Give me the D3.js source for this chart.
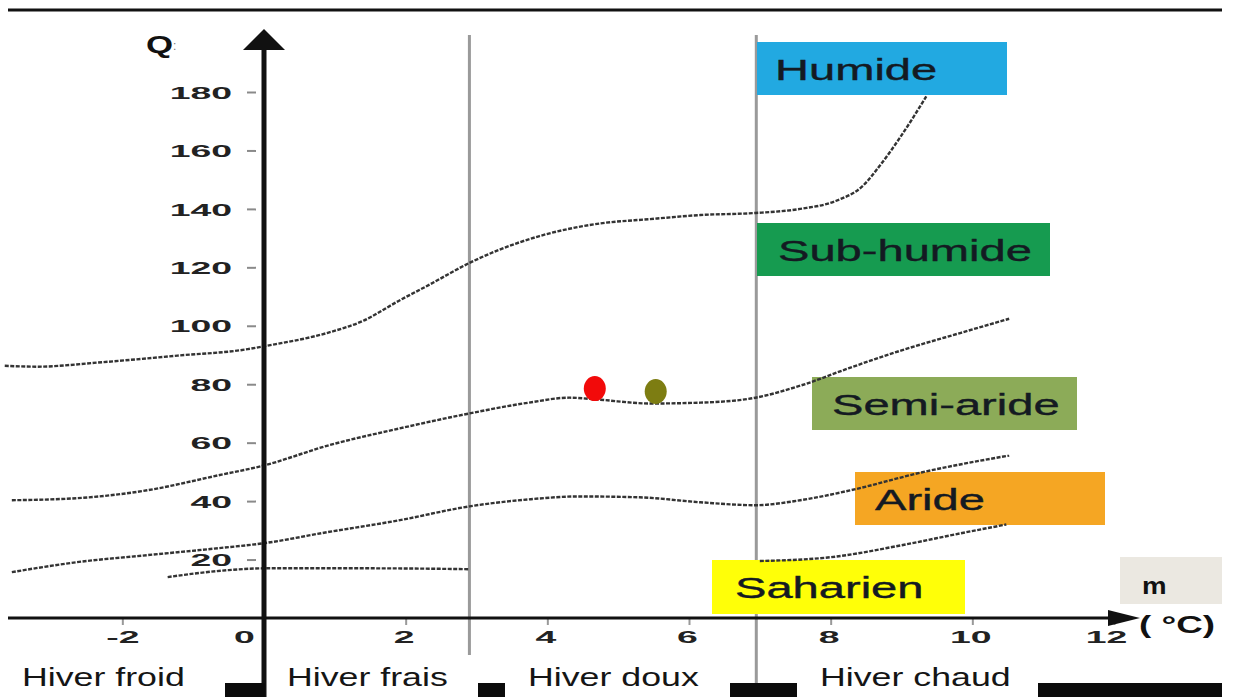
<!DOCTYPE html>
<html>
<head>
<meta charset="utf-8">
<script src="https://cdn.jsdelivr.net/npm/d3@7"></script>
<style>
  body { margin: 0; background: #fff; }
  svg { display: block; font-family: 'Liberation Sans', Arial, sans-serif; }
</style>
</head>
<body>
<script>
// climagramme d'Emberger : m (°C) en abscisse, Q en ordonnée
const xTicks = [-2, 0, 2, 4, 6, 8, 10, 12];
const yTicks = [20, 40, 60, 80, 100, 120, 140, 160, 180];

const limiteHumide = [
  [-3.66, 86.3], [-3.2, 86], [-2.35, 87.4], [-1.22, 89.8], [-0.23, 92], [0, 93],
  [0.9, 97.6], [1.4, 101.7], [1.9, 108.5], [2.33, 114], [2.9, 121.5], [3.32, 126],
  [3.89, 130.7], [4.74, 135], [5.45, 136.5], [6.16, 137.9], [6.94, 138.6], [7.57, 140],
  [8.07, 142.7], [8.45, 147.8], [8.71, 155.3], [8.99, 164.8], [9.35, 178.5]
];
const limiteSubHumide = [
  [-3.56, 40.3], [-2.64, 41], [-1.65, 43.7], [-0.65, 48.8], [0, 52.2], [0.9, 59],
  [1.9, 64.8], [2.9, 70], [3.74, 73.7], [4.31, 75.4], [4.74, 74.7], [5.45, 73.4],
  [6.16, 73.7], [6.87, 75.1], [7.57, 79.5], [8.28, 85.7], [8.99, 91.5], [9.84, 97.6],
  [10.52, 102.4]
];
const limiteSemiAride = [
  [-3.56, 15.7], [-2.64, 19.1], [-1.65, 21.5], [-0.64, 23.9], [0, 25.6], [0.9, 29.4],
  [1.9, 33.4], [2.9, 38.2], [3.74, 40.6], [4.45, 41.6], [5.3, 41.3], [6.16, 39.6],
  [6.94, 38.6], [7.57, 40.3], [8.28, 43.7], [9.28, 49.8], [10.52, 55.6]
];
const limiteArideGauche = [[-1.36, 14], [-0.5, 16.4], [0, 17], [1.5, 17], [2.9, 16.7]];
const limiteArideDroite = [[7.0, 19.5], [8.0, 20.8], [9.0, 24.9], [9.84, 29], [10.48, 32]];

const stations = [[4.67, 78.5], [5.53, 77.5]];
const stationColors = ['#f20a0a', '#7d7d12'];

const hiverLimits = [2.9, 6.95];
const hiverLabels = ['Hiver froid', 'Hiver frais', 'Hiver doux', 'Hiver chaud'];

const zones = ['Humide', 'Sub-humide', 'Semi-aride', 'Aride', 'Saharien'];
const zoneColors = ['#22a9e1', '#169b50', '#8cab58', '#f5a623', '#ffff08'];

const width = 1233;
const height = 697;

const svg = d3.select('body').append('svg')
  .attr('width', width)
  .attr('height', height);

const x = d3.scaleLinear().domain([0, 12]).range([264, 1114]);
const y = d3.scaleLinear().domain([0, 180]).range([618, 92]);

// le texte de l'original est étiré horizontalement
const stretch = (sel, tx, ty, sx) =>
  sel.attr('x', 0).attr('y', 0)
    .attr('transform', `translate(${tx},${ty}) scale(${sx},1)`);

// trait du haut
svg.append('line')
  .attr('x1', 8).attr('x2', 1222).attr('y1', 10).attr('y2', 10)
  .attr('stroke', '#111').attr('stroke-width', 3);

// limites d'hiver
svg.selectAll('.hiver-line')
  .data(hiverLimits).enter()
  .append('line')
  .attr('class', 'hiver-line')
  .attr('x1', d => x(d)).attr('x2', d => x(d))
  .attr('y1', 35).attr('y2', (d, i) => i === 0 ? 655 : 697)
  .attr('stroke', '#9a9a9a').attr('stroke-width', 3);

// boîtes des étages bioclimatiques
const zoneBoxes = [
  { x: 757, y: 42, w: 250, h: 53, tx: 775 },
  { x: 757, y: 223, w: 293, h: 53, tx: 778 },
  { x: 812, y: 377, w: 265, h: 53, tx: 832 },
  { x: 855, y: 472, w: 250, h: 53, tx: 875 },
  { x: 712, y: 560, w: 253, h: 54, tx: 735 }
];

const zoneG = svg.selectAll('.zone')
  .data(zones).enter()
  .append('g')
  .attr('class', 'zone');

zoneG.append('rect')
  .attr('x', (d, i) => zoneBoxes[i].x)
  .attr('y', (d, i) => zoneBoxes[i].y)
  .attr('width', (d, i) => zoneBoxes[i].w)
  .attr('height', (d, i) => zoneBoxes[i].h)
  .attr('fill', (d, i) => zoneColors[i]);

zoneG.append('text')
  .attr('font-size', 30)
  .attr('fill', '#141a22')
  .attr('stroke', '#141a22').attr('stroke-width', 0.4)
  .attr('transform', (d, i) =>
    `translate(${zoneBoxes[i].tx},${zoneBoxes[i].y + zoneBoxes[i].h / 2 + 11}) scale(1.57,1)`)
  .text(d => d);

// boîte "m"
svg.append('rect')
  .attr('x', 1120).attr('y', 557).attr('width', 102).attr('height', 47)
  .attr('fill', '#ebe8e1');

// courbes limites
const line = d3.line()
  .x(d => x(d[0]))
  .y(d => y(d[1]))
  .curve(d3.curveMonotoneX);

svg.selectAll('.limite')
  .data([limiteHumide, limiteSubHumide, limiteSemiAride, limiteArideGauche, limiteArideDroite])
  .enter()
  .append('path')
  .attr('class', 'limite')
  .attr('d', line)
  .attr('fill', 'none')
  .attr('stroke', '#333')
  .attr('stroke-width', 2.4)
  .attr('stroke-dasharray', '4,1.5');

// stations
svg.selectAll('.station')
  .data(stations).enter()
  .append('ellipse')
  .attr('class', 'station')
  .attr('cx', d => x(d[0]))
  .attr('cy', d => y(d[1]))
  .attr('rx', 11).attr('ry', 12.5)
  .attr('fill', (d, i) => stationColors[i]);

// axe Y
const yAxis = svg.append('g')
  .attr('transform', 'translate(256,0)')
  .call(d3.axisLeft(y).tickValues(yTicks).tickSize(9));

yAxis.select('.domain').remove();
yAxis.selectAll('line').attr('stroke', '#8a8a8a').attr('stroke-width', 2);
yAxis.selectAll('text')
  .attr('font-size', 17).attr('font-weight', 'bold').attr('fill', '#222')
  .attr('font-family', 'Liberation Sans, Arial, sans-serif')
  .attr('dy', '0.36em')
  .call(stretch, -24, 0, 2.2);

// axe X
const xAxis = svg.append('g')
  .attr('transform', `translate(0,${y(0) + 1})`)
  .call(d3.axisBottom(x).tickValues(xTicks).tickSize(6).tickFormat(d => String(d)));

xAxis.select('.domain').remove();
xAxis.selectAll('line').attr('stroke', '#999').attr('stroke-width', 2);
xAxis.selectAll('text')
  .attr('font-size', 17).attr('font-weight', 'bold').attr('fill', '#222')
  .attr('font-family', 'Liberation Sans, Arial, sans-serif')
  .attr('dy', '0.36em')
  .each(function (d) {
    const dx = d === 0 ? -20 : (d === 12 ? -8 : (d === -2 ? 0 : -2));
    d3.select(this).call(stretch, dx, 18, 2.2);
  });
xAxis.selectAll('.tick').filter(d => d === 0).select('line').remove();

// traits des axes
svg.append('line')
  .attr('x1', 8).attr('x2', 1118).attr('y1', y(0)).attr('y2', y(0))
  .attr('stroke', '#111').attr('stroke-width', 3);
svg.append('path')
  .attr('d', `M1140,${y(0)} L1108,${y(0) - 8} L1108,${y(0) + 8} Z`)
  .attr('fill', '#111');

svg.append('line')
  .attr('x1', x(0)).attr('x2', x(0)).attr('y1', 45).attr('y2', 697)
  .attr('stroke', '#111').attr('stroke-width', 5);
svg.append('path')
  .attr('d', `M${x(0)},29 L${x(0) - 21},50 L${x(0) + 21},50 Z`)
  .attr('fill', '#111');

// titres des axes
svg.append('text')
  .attr('font-size', 24).attr('font-weight', 'bold').attr('fill', '#111')
  .call(stretch, 146, 53, 1.45)
  .text('Q');
svg.append('text')
  .attr('font-size', 12).attr('fill', '#777')
  .call(stretch, 173, 50, 1)
  .text(':');
svg.append('text')
  .attr('font-size', 24).attr('font-weight', 'bold').attr('fill', '#111')
  .call(stretch, 1142, 594, 1.15)
  .text('m');
svg.append('text')
  .attr('font-size', 23).attr('font-weight', 'bold').attr('fill', '#111')
  .call(stretch, 1139, 633, 1.6)
  .text('( °C)');

// bandes du bas
const blackBars = [
  { x: 225, w: 40 }, { x: 478, w: 27 }, { x: 730, w: 67 }, { x: 1038, w: 184 }
];
svg.selectAll('.bar-bas')
  .data(blackBars).enter()
  .append('rect')
  .attr('class', 'bar-bas')
  .attr('x', d => d.x).attr('y', 683)
  .attr('width', d => d.w).attr('height', 14)
  .attr('fill', '#0b0b0b');

const hiverPos = [22, 287, 528, 820];
svg.selectAll('.hiver-label')
  .data(hiverLabels).enter()
  .append('text')
  .attr('class', 'hiver-label')
  .attr('font-size', 25)
  .attr('fill', '#151515')
  .each(function (d, i) {
    d3.select(this).call(stretch, hiverPos[i], 686, 1.43);
  })
  .text(d => d);
</script>
</body>
</html>
